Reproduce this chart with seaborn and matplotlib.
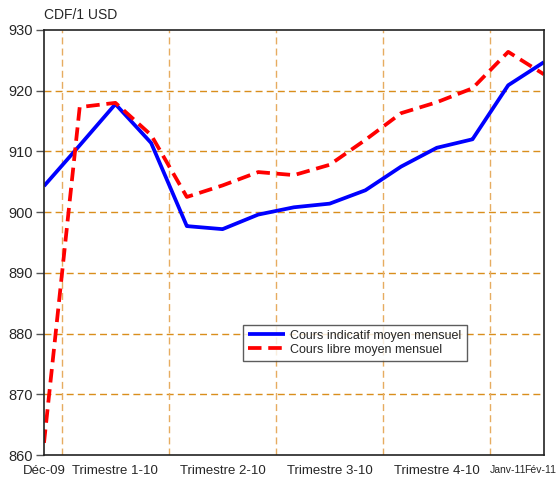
import matplotlib
matplotlib.use("Agg")
import matplotlib.pyplot as plt
import seaborn as sns
import pandas as pd

# monthly values, Dec-09 .. Feb-11
months = ["Déc-09", "Janv-10", "Févr-10", "Mars-10", "Avr-10", "Mai-10", "Juin-10",
          "Juil-10", "Août-10", "Sept-10", "Oct-10", "Nov-10", "Déc-10", "Janv-11", "Fév-11"]
indicatif = [904.3, 911.0, 917.8, 911.4, 897.7, 897.2, 899.6, 900.8, 901.4,
             903.6, 907.5, 910.6, 912.0, 920.9, 924.7]
libre = [862.0, 917.3, 918.0, 912.7, 902.5, 904.4, 906.6, 906.1, 907.8,
         911.9, 916.3, 918.1, 920.4, 926.4, 922.7]

x_labels = ["Déc-09", "Trimestre 1-10", "Trimestre 2-10", "Trimestre 3-10",
            "Trimestre 4-10", "Janv-11", "Fév-11"]
x_label_pos = [0, 2, 5, 8, 11, 13, 14]

df = pd.DataFrame({
    "idx": list(range(len(months))) * 2,
    "value": indicatif + libre,
    "serie": ["Cours indicatif moyen mensuel"] * len(months) + ["Cours libre moyen mensuel"] * len(months),
})

sns.set_style("white")
plt.rcParams["font.family"] = ["Liberation Sans", "DejaVu Sans"]

fig = plt.figure(figsize=(5.59, 4.87), dpi=100)
ax = fig.add_axes([0.0787, 0.0657, 0.8943, 0.8727])

# grid first so lines sit on top
for v in [870, 880, 890, 900, 910, 920]:
    ax.axhline(v, color="#d98e1c", lw=1.0, ls=(0, (5, 3)), zorder=0)
for g in [0.5, 3.5, 6.5, 9.5, 12.5]:
    ax.axvline(g, color="#e6ac60", lw=1.0, ls=(0, (5, 3)), zorder=0)

sns.lineplot(data=df, x="idx", y="value", hue="serie", style="serie",
             palette=["#0000ff", "#ff0000"], dashes=[(1, 0), (3.6, 1.8)],
             linewidth=2.7, ax=ax, legend=True)

ax.set_xlim(0, 14)
ax.set_ylim(860, 930)
ax.set_yticks(range(860, 931, 10))
ax.tick_params(axis="y", which="both", left=True, length=6, width=1, labelsize=10.5, pad=2, color="#555555")
ax.set_xticks([])
ax.set_xlabel("")
ax.set_ylabel("")
for s in ax.spines.values():
    s.set_color("#222222")
    s.set_linewidth(1.2)

for pos, lab in zip(x_label_pos, x_labels):
    small = lab.startswith("Janv") or lab.startswith("Fév")
    ha = "center"
    if lab == "Fév-11":
        ha = "right"
        pos = 14.35
    ax.text(pos, 858.3, lab, ha=ha, va="top", fontsize=7.5 if small else 9.5,
            transform=ax.transData, clip_on=False)

fig.text(0.0787, 0.955, "CDF/1 USD", ha="left", va="bottom", fontsize=10)

leg = ax.legend(loc="lower left", bbox_to_anchor=(0.398, 0.222), frameon=True,
                fancybox=False, fontsize=9, handlelength=3.0, borderpad=0.4,
                labelspacing=0.15, handletextpad=0.4, borderaxespad=0)
leg.get_frame().set_edgecolor("#333333")
leg.get_frame().set_linewidth(1.0)

fig.savefig("out.png", dpi=100)
